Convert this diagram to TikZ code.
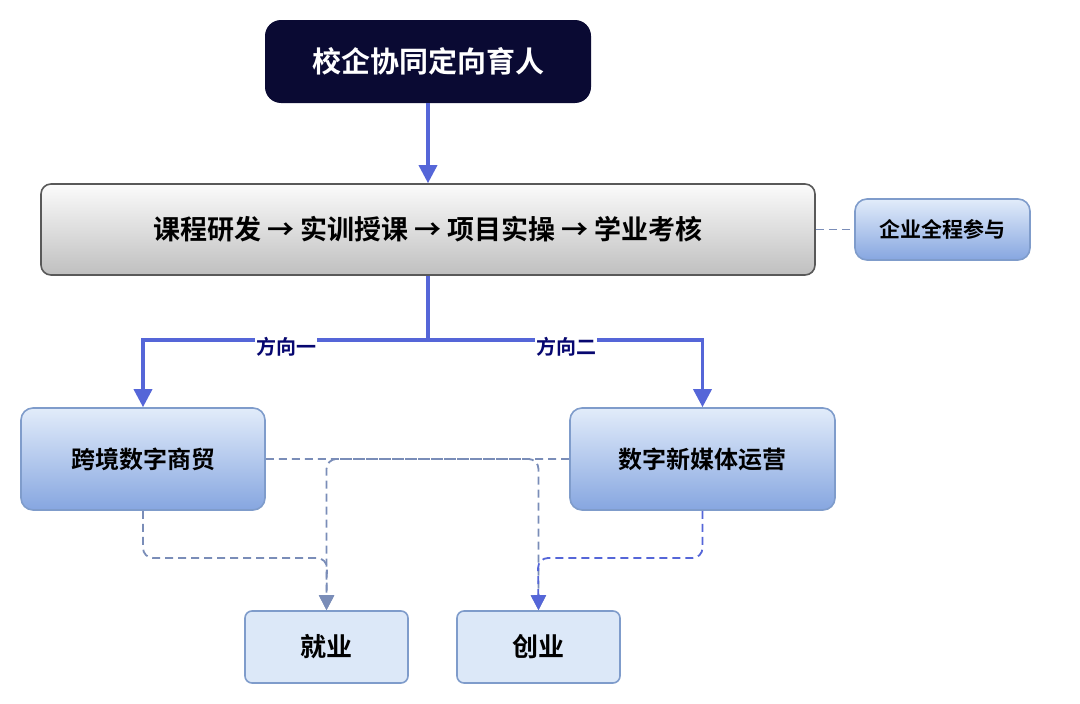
\documentclass[tikz,border=0pt]{standalone}
\usepackage{fontspec}
\setmainfont{Noto Sans CJK SC}[BoldFont={Noto Sans CJK SC Bold}]
\usetikzlibrary{arrows.meta}
\definecolor{navy}{HTML}{0A0A33}
\definecolor{arr}{HTML}{5566D8}
\definecolor{bord}{HTML}{7F9CCB}
\definecolor{dash}{HTML}{7A8DB8}
\definecolor{btop}{HTML}{E2ECFA}
\definecolor{bbot}{HTML}{86A6E0}
\definecolor{lfill}{HTML}{DCE8F8}
\begin{document}
\begin{tikzpicture}[x=1pt,y=-1pt,
  box/.style={draw=bord,line width=1.6pt,rounded corners=12pt,top color=btop,bottom color=bbot,font=\bfseries\fontsize{24}{28}\selectfont,inner sep=0pt},
  light/.style={draw=bord,line width=1.6pt,rounded corners=7pt,fill=lfill,font=\bfseries\fontsize{26}{30}\selectfont,inner sep=0pt},
  sol/.style={draw=arr,line width=3.5pt,-{Triangle[length=18pt,width=18pt]}},
  dsh/.style={draw=dash,line width=1.8pt,dash pattern=on 8pt off 5pt,rounded corners=10pt},
  tip/.style={-{Triangle[length=15pt,width=15pt]}},
  lbl/.style={fill=white,text=navy!70!blue,font=\bfseries\fontsize{20}{24}\selectfont,inner sep=1pt}]
\useasboundingbox (0,0) rectangle (1080,704);
\node[fill=navy,rounded corners=16pt,minimum width=326pt,minimum height=83pt,text=white,font=\bfseries\fontsize{29}{34}\selectfont] (top) at (428,61.5) {校企协同定向育人};
\node[draw=gray!70!black,line width=1.6pt,rounded corners=10pt,top color=gray!3,bottom color=gray!50,minimum width=774pt,minimum height=91pt,font=\bfseries\fontsize{27}{32}\selectfont] (bar) at (428,229.5) {课程研发 → 实训授课 → 项目实操 → 学业考核};
\node[box,minimum width=175pt,minimum height=61pt,font=\bfseries\fontsize{21}{25}\selectfont] (ent) at (942.5,229.5) {企业全程参与};
\node[box,minimum width=244pt,minimum height=102pt] (a) at (143,459) {跨境数字商贸};
\node[box,minimum width=265pt,minimum height=102pt] (b) at (702.5,459) {数字新媒体运营};
\node[light,minimum width=163pt,minimum height=72pt] (j) at (326.5,647) {就业};
\node[light,minimum width=163pt,minimum height=72pt] (c) at (538.5,647) {创业};
\draw[sol] (top) -- (bar);
\coordinate (m) at (428,340);
\draw[sol] (bar.south) -- (m) -| (a.north);
\draw[sol] (m) -| (b.north);
\node[lbl] at (286,347) {方向一};
\node[lbl] at (566,347) {方向二};
\draw[dsh] (bar.east) -- (ent.west);
\draw[dsh,tip] (a.east) -| (c.north);
\draw[dsh,tip] (b.west) -| (j.north);
\draw[dsh,tip] (a.south) |- (327,558) -- (j.north);
\draw[dsh,tip,draw=arr] (b.south) |- (538,558) -- (c.north);
\end{tikzpicture}
\end{document}
